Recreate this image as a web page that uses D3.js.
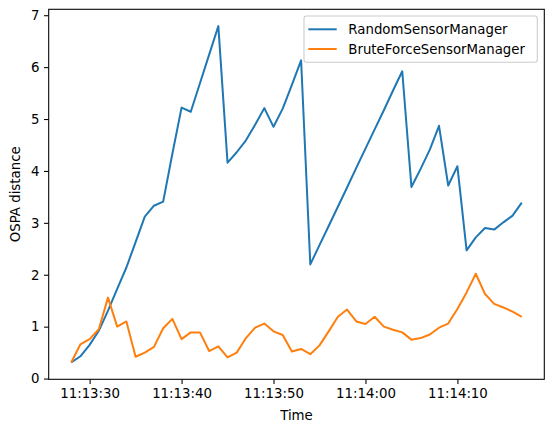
<!DOCTYPE html>
<html>
<head>
<meta charset="utf-8">
<script src="https://cdn.jsdelivr.net/npm/d3@7/dist/d3.min.js"></script>
<style>
  html, body { margin: 0; padding: 0; background: #fff; }
  svg { display: block; }
  text { font-family: "DejaVu Sans", sans-serif; }
</style>
</head>
<body>
<script>
const times = [
  "11:13:28","11:13:29","11:13:30","11:13:31","11:13:32","11:13:33","11:13:34","11:13:35","11:13:36","11:13:37",
  "11:13:38","11:13:39","11:13:40","11:13:41","11:13:42","11:13:43","11:13:44","11:13:45","11:13:46","11:13:47",
  "11:13:48","11:13:49","11:13:50","11:13:51","11:13:52","11:13:53","11:13:54","11:13:55","11:13:56","11:13:57",
  "11:13:58","11:13:59","11:14:00","11:14:01","11:14:02","11:14:03","11:14:04","11:14:05","11:14:06","11:14:07",
  "11:14:08","11:14:09","11:14:10","11:14:11","11:14:12","11:14:13","11:14:14","11:14:15","11:14:16","11:14:17"
];
const randomSeries = [
  0.31, 0.43, 0.65, 0.92, 1.31, 1.73, 2.14, 2.63, 3.12, 3.33,
  3.41, 4.33, 5.22, 5.14, 5.69, 6.24, 6.79, 4.16, 4.36, 4.59,
  4.89, 5.21, 4.85, 5.20, 5.66, 6.13, 2.20, 2.57, 2.94, 3.31,
  3.68, 4.06, 4.43, 4.80, 5.17, 5.55, 5.92, 3.69, 4.04, 4.41,
  4.87, 3.72, 4.09, 2.47, 2.72, 2.90, 2.87, 3.01, 3.14, 3.39
];
const bruteSeries = [
  0.31, 0.66, 0.76, 0.95, 1.56, 1.00, 1.10, 0.42, 0.50, 0.61,
  0.97, 1.15, 0.76, 0.89, 0.89, 0.53, 0.62, 0.41, 0.50, 0.78,
  0.98, 1.06, 0.91, 0.84, 0.52, 0.57, 0.47, 0.64, 0.91, 1.19,
  1.33, 1.10, 1.05, 1.19, 1.00, 0.94, 0.89, 0.75, 0.78, 0.85,
  0.98, 1.06, 1.34, 1.66, 2.02, 1.63, 1.44, 1.37, 1.29, 1.19
];
const seriesNames = ["RandomSensorManager", "BruteForceSensorManager"];
const seriesColors = ["#1f77b4", "#ff7f0e"];
const yTicks = [0, 1, 2, 3, 4, 5, 6, 7];
const xTickLabels = ["11:13:30", "11:13:40", "11:13:50", "11:14:00", "11:14:10"];

const W = 554, H = 432;
const L = 48.7, R = 544.3, T = 9.3, B = 379.3;

const parse = s => { const [h, m, sec] = s.split(":").map(Number); return new Date(2024, 0, 1, h, m, sec); };
const dates = times.map(parse);

const svg = d3.select("body").append("svg").attr("width", W).attr("height", H);

const t0 = dates[0].getTime(), t1 = dates[dates.length - 1].getTime();
const padT = (t1 - t0) * 0.05;
const x = d3.scaleTime().domain([new Date(t0 - padT), new Date(t1 + padT)]).range([L, R]);

const allVals = randomSeries.concat(bruteSeries);
const ymin = d3.min(allVals), ymax = d3.max(allVals);
const padY = (ymax - ymin) * 0.05;
const y = d3.scaleLinear().domain([ymin - padY, ymax + padY]).range([B, T]);

const line = d3.line().x((d, i) => x(dates[i])).y(d => y(d));

const plot = svg.append("g");
[randomSeries, bruteSeries].forEach((s, k) => {
  plot.append("path").datum(s)
    .attr("d", line)
    .attr("fill", "none")
    .attr("stroke", seriesColors[k])
    .attr("stroke-width", 2)
    .attr("stroke-linejoin", "round")
    .attr("stroke-linecap", "butt");
});

// axes
const xTickDates = xTickLabels.map(parse);
const xAxis = d3.axisBottom(x).tickValues(xTickDates).tickFormat(d3.timeFormat("%H:%M:%S"))
  .tickSize(4.67).tickPadding(4.67);
const gx = svg.append("g").attr("transform", `translate(0,${B})`).call(xAxis);
gx.select(".domain").remove();
gx.selectAll("line").attr("stroke", "#000").attr("stroke-width", 1.07);
gx.selectAll("text").attr("font-size", "13.33px").attr("fill", "#000").attr("font-family", "DejaVu Sans");

const yAxis = d3.axisLeft(y).tickValues(yTicks).tickFormat(d3.format("d")).tickSize(4.67).tickPadding(4.67);
const gy = svg.append("g").attr("transform", `translate(${L},0)`).call(yAxis);
gy.select(".domain").remove();
gy.selectAll("line").attr("stroke", "#000").attr("stroke-width", 1.07);
gy.selectAll("text").attr("font-size", "13.33px").attr("fill", "#000").attr("font-family", "DejaVu Sans");

// spines
svg.append("rect").attr("x", L).attr("y", T).attr("width", R - L).attr("height", B - T)
  .attr("fill", "none").attr("stroke", "#000").attr("stroke-width", 1.07);

// axis labels
svg.append("text").attr("x", (L + R) / 2).attr("y", 420).attr("text-anchor", "middle")
  .attr("font-size", "13.33px").text("Time");
svg.append("text").attr("transform", `translate(20,${(T + B) / 2}) rotate(-90)`)
  .attr("text-anchor", "middle").attr("font-size", "13.33px").text("OSPA distance");

// legend
const lg = svg.append("g");
lg.append("rect").attr("x", 304).attr("y", 16).attr("width", 233.3).attr("height", 46.3)
  .attr("rx", 2.5).attr("fill", "#fff").attr("fill-opacity", 0.8)
  .attr("stroke", "#cccccc").attr("stroke-width", 1.07);
seriesNames.forEach((name, k) => {
  const cy = 29.3 + k * 19.7;
  lg.append("line").attr("x1", 308.3).attr("x2", 336.7).attr("y1", cy).attr("y2", cy)
    .attr("stroke", seriesColors[k]).attr("stroke-width", 2);
  lg.append("text").attr("x", 348.3).attr("y", cy).attr("dy", "0.35em")
    .attr("font-size", "13.33px").attr("fill", "#000").text(name);
});
</script>
</body>
</html>
